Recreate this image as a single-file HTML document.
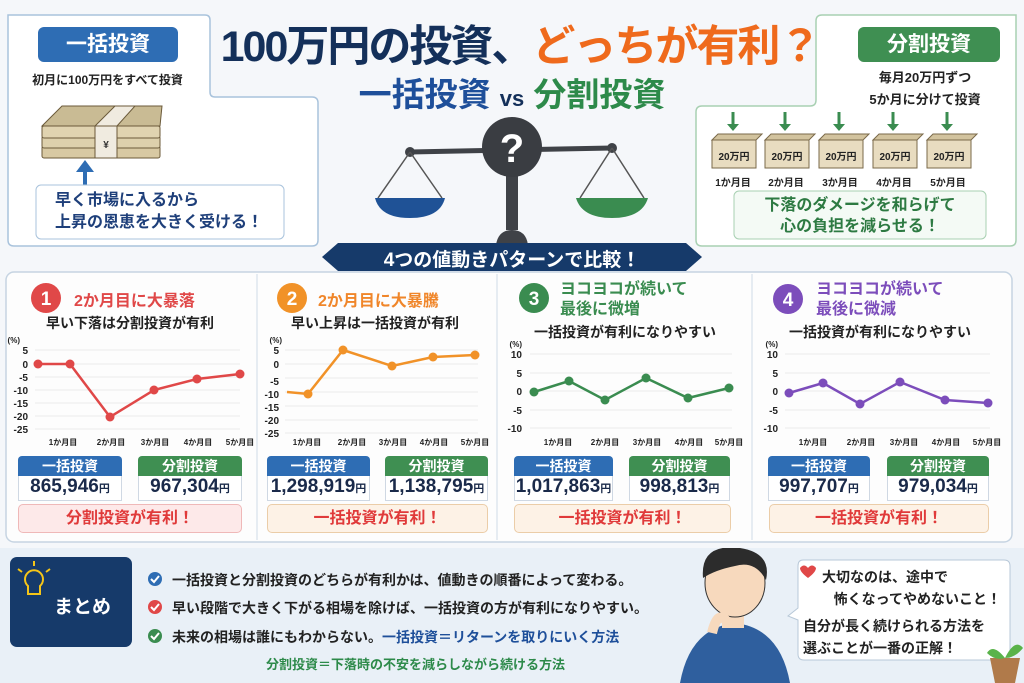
<!DOCTYPE html>
<html><head><meta charset="utf-8"><style>
*{margin:0;padding:0;box-sizing:border-box}
body{width:1024px;height:683px;overflow:hidden;background:#f5f7fa;font-family:"Liberation Sans","Noto Sans CJK JP",sans-serif;font-weight:bold;position:relative}
.a{position:absolute}
.c{text-align:center;white-space:nowrap}
.lbl{color:#fff;border-radius:6px}
.hdr{color:#fff;font-size:14px;text-align:center;line-height:20px;border-radius:4px 4px 0 0}
.val{background:#fff;border:1px solid #cfd8e3;border-top:none;text-align:center;font-size:19px;color:#1a2a4a;line-height:22px}
.val small{font-size:11px}
.res{border-radius:5px;text-align:center;font-size:16px;line-height:27px;color:#e03a3a}
</style></head><body>
<svg class="a" style="left:0;top:0" width="1024" height="275">
<path d="M8 15 H205 Q210 15 210 20 V92 Q210 97 215 97 H312 Q318 97 318 103 V240 Q318 246 312 246 H14 Q8 246 8 240 Z" fill="#fff" stroke="#a9c3dc" stroke-width="1.5"/>
<path d="M1016 15 H822 Q816 15 816 21 V100 Q816 106 810 106 H702 Q696 106 696 112 V240 Q696 246 702 246 H1010 Q1016 246 1016 240 Z" fill="#fff" stroke="#a8d0b2" stroke-width="1.5"/>
<!-- money -->
<g transform="translate(40,100)" stroke="#6b5a3a">
<rect x="2" y="46" width="118" height="12" rx="2" fill="#d8c9a3"/>
<rect x="2" y="36" width="118" height="12" rx="2" fill="#ddd0ac"/>
<rect x="2" y="26" width="118" height="12" rx="2" fill="#e0d3b0"/>
<path d="M2 26 L22 6 H122 L120 26 Z" fill="#c9bb94"/>
<path d="M55 26 L75 6 H95 L77 26 Z" fill="#f0ebe0"/>
<rect x="55" y="26" width="22" height="32" fill="#f0ebe0"/>
<text x="66" y="48" font-size="10" text-anchor="middle" fill="#333" stroke="none">¥</text>
</g>
<path d="M85 186 V170" stroke="#2e6db4" stroke-width="4"/>
<path d="M76 172 L85 160 L94 172 Z" fill="#2e6db4"/>
<rect x="36" y="185" width="248" height="54" rx="5" fill="#fff" stroke="#a9c3dc"/>
<!-- scale -->
<line x1="410" y1="152" x2="612" y2="148" stroke="#3f4247" stroke-width="5"/>
<circle cx="410" cy="152" r="5" fill="#3f4247"/><circle cx="612" cy="148" r="5" fill="#3f4247"/>
<path d="M410 152 L378 198 M410 152 L442 198 M612 148 L580 198 M612 148 L644 198" stroke="#555" stroke-width="1.5"/>
<path d="M375 198 H445 Q440 218 410 218 Q380 218 375 198Z" fill="#1f5296"/>
<path d="M576 198 H648 Q642 218 612 218 Q582 218 576 198Z" fill="#3a8c50"/>
<rect x="506" y="150" width="12" height="80" fill="#3f4247"/>
<path d="M496 245 Q498 230 512 230 Q526 230 528 245Z" fill="#3f4247"/>
<circle cx="512" cy="147" r="30" fill="#3a3d42"/>
<text x="512" y="162" font-size="40" font-weight="bold" text-anchor="middle" fill="#fff">?</text>
<g stroke="#3a8c50" stroke-width="3">
<path d="M733 112 V126 M785 112 V126 M839 112 V126 M893 112 V126 M947 112 V126"/>
</g>
<g fill="#3a8c50">
<path d="M727 124 h12 l-6 7z M779 124 h12 l-6 7z M833 124 h12 l-6 7z M887 124 h12 l-6 7z M941 124 h12 l-6 7z"/>
</g>
<g stroke="#7a6a4a" fill="#e8dcc0">
<rect x="712" y="140" width="44" height="28"/><rect x="765" y="140" width="44" height="28"/><rect x="819" y="140" width="44" height="28"/><rect x="873" y="140" width="44" height="28"/><rect x="927" y="140" width="44" height="28"/>
</g>
<g stroke="#7a6a4a" fill="#d2c39e">
<path d="M712 140 l6 -6 h44 l-6 6z M765 140 l6 -6 h44 l-6 6z M819 140 l6 -6 h44 l-6 6z M873 140 l6 -6 h44 l-6 6z M927 140 l6 -6 h44 l-6 6z"/>
</g>
<g font-size="10" fill="#222" text-anchor="middle" font-weight="bold">
<text x="734" y="160">20万円</text><text x="787" y="160">20万円</text><text x="841" y="160">20万円</text><text x="895" y="160">20万円</text><text x="949" y="160">20万円</text>
<text x="733" y="186">1か月目</text><text x="786" y="186">2か月目</text><text x="840" y="186">3か月目</text><text x="894" y="186">4か月目</text><text x="948" y="186">5か月目</text>
</g>
<rect x="734" y="191" width="252" height="48" rx="5" fill="#f4faf5" stroke="#a8d0b2"/>
<path d="M322 257 L338 243 H686 L702 257 L686 271 H338 Z" fill="#163a6a"/>
</svg>
<div class="a lbl c" style="left:38px;top:27px;width:140px;height:35px;background:#2e6db4;font-size:21px;line-height:35px">一括投資</div>
<div class="a c" style="left:10px;top:71px;width:195px;font-size:12px;color:#222">初月に100万円をすべて投資</div>
<div class="a" style="left:55px;top:190px;font-size:16px;line-height:22px;color:#1e3f7a">早く市場に入るから<br>上昇の恩恵を大きく受ける！</div>
<div class="a c" style="left:200px;top:12px;width:640px;font-size:43px;color:#14305a;letter-spacing:-2px">100万円の投資、<span style="color:#ef6a1c">どっちが有利？</span></div>
<div class="a c" style="left:312px;top:68px;width:400px;font-size:33px;color:#1e4f9a">一括投資 <span style="font-size:22px;color:#14305a">vs</span> <span style="color:#2d8a4a">分割投資</span></div>
<div class="a lbl c" style="left:858px;top:27px;width:142px;height:35px;background:#3f8f52;font-size:21px;line-height:35px">分割投資</div>
<div class="a c" style="left:830px;top:67px;width:190px;font-size:13px;line-height:22px;color:#222">毎月20万円ずつ<br>5か月に分けて投資</div>
<div class="a c" style="left:734px;top:195px;width:252px;font-size:16px;line-height:21px;color:#2d7a42">下落のダメージを和らげて<br>心の負担を減らせる！</div>
<div class="a c" style="left:330px;top:245px;width:364px;font-size:19px;color:#fff">4つの値動きパターンで比較！</div>

<svg class="a" style="left:0;top:270px" width="1024" height="280">
<rect x="6" y="2" width="1006" height="270" rx="8" fill="#fdfdfd" stroke="#c6d4e2" stroke-width="1.5"/>
<line x1="257" y1="4" x2="257" y2="270" stroke="#cfdbe6"/><line x1="497" y1="4" x2="497" y2="270" stroke="#cfdbe6"/><line x1="752" y1="4" x2="752" y2="270" stroke="#cfdbe6"/>
<circle cx="46" cy="28" r="15" fill="#e04848"/><circle cx="292" cy="28" r="15" fill="#f19228"/><circle cx="534" cy="28" r="15" fill="#3a8c50"/><circle cx="788" cy="29" r="15" fill="#7c4dbb"/>
<g font-size="19" fill="#fff" text-anchor="middle" font-weight="bold"><text x="46" y="35">1</text><text x="292" y="35">2</text><text x="534" y="35">3</text><text x="788" y="36">4</text></g>
<g stroke="#ececec">
<path d="M35 80H240M35 94H240M35 107H240M35 120H240M35 133H240M35 146H240M35 159H240"/>
<path d="M285 80H478M285 94H478M285 108H478M285 122H478M285 136H478M285 150H478M285 163H478"/>
<path d="M530 84H732M530 103H732M530 121H732M530 140H732M530 158H732"/>
<path d="M785 84H990M785 103H990M785 121H990M785 140H990M785 158H990"/>
</g>
<g font-size="10" fill="#222" font-weight="bold" text-anchor="end">
<text x="20" y="73" font-size="8">(%)</text><text x="28" y="84">5</text><text x="28" y="98">0</text><text x="28" y="111">-5</text><text x="28" y="124">-10</text><text x="28" y="137">-15</text><text x="28" y="150">-20</text><text x="28" y="163">-25</text>
<text x="282" y="73" font-size="8">(%)</text><text x="279" y="84">5</text><text x="279" y="98">0</text><text x="279" y="115">-5</text><text x="279" y="128">-10</text><text x="279" y="141">-15</text><text x="279" y="154">-20</text><text x="279" y="167">-25</text>
<text x="522" y="77" font-size="8">(%)</text><text x="522" y="88">10</text><text x="522" y="107">5</text><text x="522" y="125">0</text><text x="522" y="144">-5</text><text x="522" y="162">-10</text>
<text x="778" y="77" font-size="8">(%)</text><text x="778" y="88">10</text><text x="778" y="107">5</text><text x="778" y="125">0</text><text x="778" y="144">-5</text><text x="778" y="162">-10</text>
</g>
<g font-size="8" fill="#222" font-weight="bold" text-anchor="middle">
<text x="63" y="175">1か月目</text><text x="111" y="175">2か月目</text><text x="155" y="175">3か月目</text><text x="198" y="175">4か月目</text><text x="240" y="175">5か月目</text>
<text x="307" y="175">1か月目</text><text x="352" y="175">2か月目</text><text x="393" y="175">3か月目</text><text x="434" y="175">4か月目</text><text x="475" y="175">5か月目</text>
<text x="558" y="175">1か月目</text><text x="605" y="175">2か月目</text><text x="647" y="175">3か月目</text><text x="689" y="175">4か月目</text><text x="729" y="175">5か月目</text>
<text x="813" y="175">1か月目</text><text x="861" y="175">2か月目</text><text x="904" y="175">3か月目</text><text x="946" y="175">4か月目</text><text x="987" y="175">5か月目</text>
</g>
<g fill="none" stroke-width="2.5">
<polyline points="38,94 70,94 110,147 154,120 197,109 240,104" stroke="#e04848"/>
<polyline points="287,122 308,124 343,80 392,96 433,87 475,85" stroke="#f19228"/>
<polyline points="534,122 569,111 605,130 646,108 688,128 729,118" stroke="#3a8c50"/>
<polyline points="789,123 823,113 860,134 900,112 945,130 988,133" stroke="#7c4dbb"/>
</g>
<g fill="#e04848"><circle cx="38" cy="94" r="4.5"/><circle cx="70" cy="94" r="4.5"/><circle cx="110" cy="147" r="4.5"/><circle cx="154" cy="120" r="4.5"/><circle cx="197" cy="109" r="4.5"/><circle cx="240" cy="104" r="4.5"/></g>
<g fill="#f19228"><circle cx="308" cy="124" r="4.5"/><circle cx="343" cy="80" r="4.5"/><circle cx="392" cy="96" r="4.5"/><circle cx="433" cy="87" r="4.5"/><circle cx="475" cy="85" r="4.5"/></g>
<g fill="#3a8c50"><circle cx="534" cy="122" r="4.5"/><circle cx="569" cy="111" r="4.5"/><circle cx="605" cy="130" r="4.5"/><circle cx="646" cy="108" r="4.5"/><circle cx="688" cy="128" r="4.5"/><circle cx="729" cy="118" r="4.5"/></g>
<g fill="#7c4dbb"><circle cx="789" cy="123" r="4.5"/><circle cx="823" cy="113" r="4.5"/><circle cx="860" cy="134" r="4.5"/><circle cx="900" cy="112" r="4.5"/><circle cx="945" cy="130" r="4.5"/><circle cx="988" cy="133" r="4.5"/></g>
</svg>
<div class="a" style="left:74px;top:287px;font-size:16px;color:#e04848">2か月目に大暴落</div>
<div class="a c" style="left:30px;top:313px;width:200px;font-size:14px;color:#222">早い下落は分割投資が有利</div>
<div class="a" style="left:318px;top:287px;font-size:16px;color:#f0862a">2か月目に大暴騰</div>
<div class="a c" style="left:270px;top:313px;width:210px;font-size:14px;color:#222">早い上昇は一括投資が有利</div>
<div class="a" style="left:560px;top:280px;font-size:16px;line-height:20px;color:#3a8c50">ヨコヨコが続いて<br>最後に微増</div>
<div class="a c" style="left:520px;top:322px;width:210px;font-size:14px;color:#222">一括投資が有利になりやすい</div>
<div class="a" style="left:816px;top:280px;font-size:16px;line-height:20px;color:#7c4dbb">ヨコヨコが続いて<br>最後に微減</div>
<div class="a c" style="left:775px;top:322px;width:210px;font-size:14px;color:#222">一括投資が有利になりやすい</div>

<div class="a" style="left:18px;top:456px;width:104px"><div class="hdr" style="background:#2e6db4">一括投資</div><div class="val">865,946<small>円</small></div></div>
<div class="a" style="left:138px;top:456px;width:104px"><div class="hdr" style="background:#3f8f52">分割投資</div><div class="val">967,304<small>円</small></div></div>
<div class="a" style="left:267px;top:456px;width:103px"><div class="hdr" style="background:#2e6db4">一括投資</div><div class="val">1,298,919<small>円</small></div></div>
<div class="a" style="left:385px;top:456px;width:103px"><div class="hdr" style="background:#3f8f52">分割投資</div><div class="val">1,138,795<small>円</small></div></div>
<div class="a" style="left:514px;top:456px;width:99px"><div class="hdr" style="background:#2e6db4">一括投資</div><div class="val">1,017,863<small>円</small></div></div>
<div class="a" style="left:629px;top:456px;width:101px"><div class="hdr" style="background:#3f8f52">分割投資</div><div class="val">998,813<small>円</small></div></div>
<div class="a" style="left:768px;top:456px;width:102px"><div class="hdr" style="background:#2e6db4">一括投資</div><div class="val">997,707<small>円</small></div></div>
<div class="a" style="left:887px;top:456px;width:102px"><div class="hdr" style="background:#3f8f52">分割投資</div><div class="val">979,034<small>円</small></div></div>
<div class="a res" style="left:18px;top:504px;width:224px;height:29px;background:#fde9e9;border:1px solid #efb8b8">分割投資が有利！</div>
<div class="a res" style="left:267px;top:504px;width:221px;height:29px;background:#fdf2e6;border:1px solid #ebcda8">一括投資が有利！</div>
<div class="a res" style="left:514px;top:504px;width:217px;height:29px;background:#fdf2e6;border:1px solid #ebcda8">一括投資が有利！</div>
<div class="a res" style="left:769px;top:504px;width:220px;height:29px;background:#fdf2e6;border:1px solid #ebcda8">一括投資が有利！</div>

<div class="a" style="left:0;top:548px;width:1024px;height:135px;background:#e9f0f7"></div>
<div class="a" style="left:10px;top:557px;width:122px;height:90px;background:#163a6a;border-radius:7px"></div>
<svg class="a" style="left:0;top:548px" width="1024" height="135">
<g stroke="#f5c518" stroke-width="2" fill="none"><path d="M28 38 a9 9 0 1 1 12 0 v8 h-12z"/><path d="M22 24 l-4 -3 M34 18 v-5 M46 24 l4 -3"/></g>
<g fill="#2e6db4"><circle cx="155" cy="31" r="7"/></g><g fill="#e04848"><circle cx="155" cy="59" r="7"/></g><g fill="#3a8c50"><circle cx="155" cy="88" r="7"/></g>
<g stroke="#fff" stroke-width="2" fill="none"><path d="M151 31 l3 3 l5 -6 M151 59 l3 3 l5 -6 M151 88 l3 3 l5 -6"/></g>
<path d="M680 135 Q690 80 735 75 Q780 80 790 135Z" fill="#2f5f9e"/>
<path d="M722 60 h22 v20 h-22z" fill="#f7d9bd"/>
<ellipse cx="735" cy="35" rx="30" ry="34" fill="#f7d9bd" stroke="#333"/>
<path d="M703 30 Q700 -5 740 0 Q772 5 766 32 Q755 12 735 18 Q715 22 703 30Z" fill="#2c2c2c"/>
<path d="M712 85 Q718 60 728 75" stroke="#f7d9bd" stroke-width="10" fill="none"/>
<path d="M803 12 Q798 12 798 18 V60 L788 68 L798 72 V106 Q798 112 804 112 H1004 Q1010 112 1010 106 V18 Q1010 12 1004 12Z" fill="#fff" stroke="#b8c8d8"/>
<path d="M808 20 q-4-5 -8 0 q0 4 8 10 q8 -6 8 -10 q-4-5 -8 0z" fill="#e04848"/>
<path d="M995 135 l-5 -25 h30 l-5 25z" fill="#b07a4a"/>
<path d="M1005 110 q-12-15 -18-5 q8 8 18 5 q10-20 18-10 q-8 10 -18 10z" fill="#5ab34a"/>
</svg>
<div class="a" style="left:54px;top:592px;font-size:19px;color:#fff">まとめ</div>
<div class="a" style="left:172px;top:570px;font-size:14px;color:#222">一括投資と分割投資のどちらが有利かは、値動きの順番によって変わる。</div>
<div class="a" style="left:172px;top:598px;font-size:14px;color:#222">早い段階で大きく下がる相場を除けば、一括投資の方が有利になりやすい。</div>
<div class="a" style="left:172px;top:627px;font-size:14px;color:#222">未来の相場は誰にもわからない。<span style="color:#1e4f9a">一括投資＝リターンを取りにいく方法</span></div>
<div class="a" style="left:266px;top:654px;font-size:13px;color:#2d8a4a">分割投資＝下落時の不安を減らしながら続ける方法</div>
<div class="a" style="left:822px;top:566px;font-size:14px;line-height:22px;color:#222">大切なのは、途中で<br>&nbsp;&nbsp;&nbsp;怖くなってやめないこと！</div>
<div class="a" style="left:803px;top:615px;font-size:14px;line-height:22px;color:#222">自分が長く続けられる方法を<br>選ぶことが一番の正解！</div>
</body></html>
